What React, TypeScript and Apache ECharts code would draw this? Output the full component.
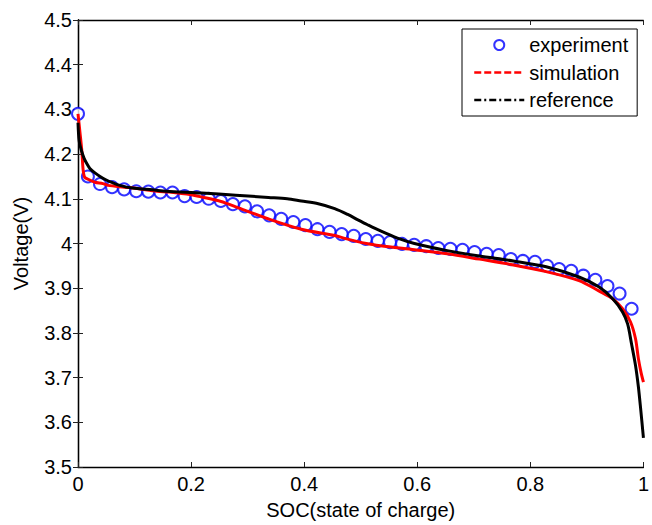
import React, { useEffect, useRef } from "react";
import * as echarts from "echarts";

const xTicks = [0, 0.2, 0.4, 0.6, 0.8, 1];
const yMin = 3.5;
const yMax = 4.5;

const expSoc = [
  0, 0.0175, 0.0389, 0.0602, 0.0816, 0.103, 0.1244, 0.1457, 0.1671, 0.1885, 0.2098,
  0.2312, 0.2526, 0.2739, 0.2953, 0.3167, 0.3381, 0.3594, 0.3808, 0.4022, 0.4235,
  0.4449, 0.4663, 0.4876, 0.509, 0.5304, 0.5518, 0.5731, 0.5945, 0.6159, 0.6372,
  0.6586, 0.68, 0.7013, 0.7227, 0.7441, 0.7655, 0.7868, 0.8082, 0.8296, 0.8509,
  0.8723, 0.8937, 0.915, 0.9364, 0.9578, 0.9791,
];
const expVoltage = [
  4.29, 4.15, 4.133, 4.126, 4.121, 4.117, 4.116, 4.114, 4.114, 4.106, 4.104,
  4.1, 4.095, 4.088, 4.083, 4.072, 4.063, 4.055, 4.048, 4.041, 4.032,
  4.026, 4.021, 4.017, 4.01, 4.006, 4.003, 3.999, 3.997, 3.994, 3.99,
  3.988, 3.986, 3.981, 3.977, 3.974, 3.965, 3.961, 3.959, 3.95, 3.943,
  3.939, 3.928, 3.919, 3.905, 3.888, 3.854,
];

const simSoc = [
  0, 0.0035, 0.007, 0.009, 0.012, 0.021, 0.03, 0.044, 0.053, 0.082, 0.104, 0.14,
  0.161, 0.2, 0.219, 0.253, 0.279, 0.337, 0.395, 0.454, 0.47, 0.51, 0.535, 0.595,
  0.653, 0.71, 0.77, 0.828, 0.886, 0.921, 0.946, 0.963, 0.977, 0.986, 0.991, 0.996, 1,
];
const simVoltage = [
  4.29, 4.248, 4.204, 4.166, 4.148, 4.142, 4.137, 4.134, 4.13, 4.126, 4.123, 4.117,
  4.115, 4.109, 4.104, 4.094, 4.082, 4.055, 4.032, 4.018, 4.012, 4.0, 3.995, 3.986,
  3.977, 3.965, 3.952, 3.937, 3.917, 3.894, 3.876, 3.854, 3.825, 3.787, 3.743, 3.71, 3.69,
];

const refSoc = [
  0, 0.002, 0.006, 0.011, 0.016, 0.021, 0.03, 0.039, 0.05, 0.061, 0.074, 0.096, 0.132, 0.156,
  0.219, 0.279, 0.337, 0.37, 0.395, 0.425, 0.454, 0.477, 0.495, 0.512, 0.535, 0.565, 0.595,
  0.653, 0.71, 0.77, 0.828, 0.886, 0.921, 0.946, 0.963, 0.972, 0.979, 0.986, 0.991,
  0.995, 1,
];
const refVoltage = [
  4.27, 4.23, 4.208, 4.19, 4.178, 4.168, 4.158, 4.15, 4.142, 4.136, 4.13, 4.124, 4.12, 4.117,
  4.113, 4.108, 4.103, 4.1, 4.095, 4.089, 4.078, 4.065, 4.053, 4.042, 4.028, 4.012, 4.0,
  3.984, 3.972, 3.961, 3.948, 3.925, 3.903, 3.876, 3.847, 3.82, 3.775, 3.727, 3.68,
  3.631, 3.565,
];

const FONT = "'Liberation Sans', Arial, Helvetica, sans-serif";

export default function App() {
  const ref = useRef<HTMLDivElement>(null);
  useEffect(() => {
    if (!ref.current) return;
    const chart = echarts.init(ref.current, undefined, { renderer: "svg" });
    const zip = (xs: number[], ys: number[]) => xs.map((x, i) => [x, ys[i]]);
    const tickStyle = { show: true, inside: true, length: 5, lineStyle: { color: "#222", width: 1 } };
    const lineAx = { show: true, lineStyle: { color: "#000", width: 1.3 } };
    const fmtY = (v: number) => String(Number(v.toFixed(1)));
    chart.setOption({
      animation: false,
      backgroundColor: "#fff",
      textStyle: { fontFamily: FONT },
      grid: { left: 78, right: 4, top: 20, bottom: 56, containLabel: false },
      legend: {
        orient: "vertical",
        left: 462,
        top: 29,
        padding: [6, 9, 6, 11],
        itemGap: 7.5,
        itemWidth: 50,
        itemHeight: 10,
        itemTextGap: 10,
        backgroundColor: "#fff",
        borderColor: "#000",
        borderWidth: 1,
        borderRadius: 0,
        textStyle: { fontSize: 20, color: "#000", fontFamily: FONT },
        data: [
          { name: "experiment" },
          {
            name: "simulation",
            itemStyle: { opacity: 0 },
            lineStyle: { type: [7, 3], width: 2.5, color: "#ff0000", opacity: 1 },
          },
          {
            name: "reference",
            itemStyle: { opacity: 0 },
            lineStyle: { type: [7, 3, 2, 3], width: 2.5, color: "#000", opacity: 1 },
          },
        ],
      },
      xAxis: [
        {
          type: "value",
          min: 0,
          max: 1,
          interval: 0.2,
          position: "bottom",
          name: "SOC(state of charge)",
          nameLocation: "middle",
          nameGap: 33,
          nameTextStyle: { fontSize: 20, color: "#000", fontFamily: FONT },
          axisLine: lineAx,
          axisTick: tickStyle,
          splitLine: { show: false },
          axisLabel: {
            fontSize: 20,
            color: "#000",
            margin: 7,
            fontFamily: FONT,
            formatter: (v: number) => (xTicks.includes(Number(v.toFixed(1))) ? String(Number(v.toFixed(1))) : ""),
          },
        },
        {
          type: "value",
          min: 0,
          max: 1,
          interval: 0.2,
          position: "top",
          axisLine: lineAx,
          axisTick: tickStyle,
          axisLabel: { show: false },
          splitLine: { show: false },
        },
      ],
      yAxis: [
        {
          type: "value",
          min: yMin,
          max: yMax,
          interval: 0.1,
          position: "left",
          name: "Voltage(V)",
          nameLocation: "middle",
          nameGap: 47,
          nameRotate: 90,
          nameTextStyle: { fontSize: 20, color: "#000", fontFamily: FONT },
          axisLine: lineAx,
          axisTick: tickStyle,
          splitLine: { show: false },
          axisLabel: { fontSize: 20, color: "#000", margin: 6, fontFamily: FONT, formatter: fmtY },
        },
        {
          type: "value",
          min: yMin,
          max: yMax,
          interval: 0.1,
          position: "right",
          axisLine: lineAx,
          axisTick: tickStyle,
          axisLabel: { show: false },
          splitLine: { show: false },
        },
      ],
      series: [
        {
          name: "experiment",
          type: "scatter",
          symbol: "emptyCircle",
          symbolSize: 12,
          itemStyle: { color: "#0000ff", borderColor: "#0000ff", borderWidth: 1 },
          data: zip(expSoc, expVoltage),
        },
        {
          name: "simulation",
          type: "line",
          symbol: "none",
          showSymbol: false,
          smooth: 0.3,
          lineStyle: { color: "#ff0000", width: 3 },
          itemStyle: { color: "#ff0000" },
          data: zip(simSoc, simVoltage),
        },
        {
          name: "reference",
          type: "line",
          symbol: "none",
          showSymbol: false,
          smooth: 0.3,
          lineStyle: { color: "#000", width: 3 },
          itemStyle: { color: "#000" },
          data: zip(refSoc, refVoltage),
        },
      ],
    });
    return () => chart.dispose();
  }, []);
  return (
    <div
      ref={ref}
      style={{ position: "fixed", left: 0, top: 0, width: 652, height: 525, background: "#fff" }}
    />
  );
}
